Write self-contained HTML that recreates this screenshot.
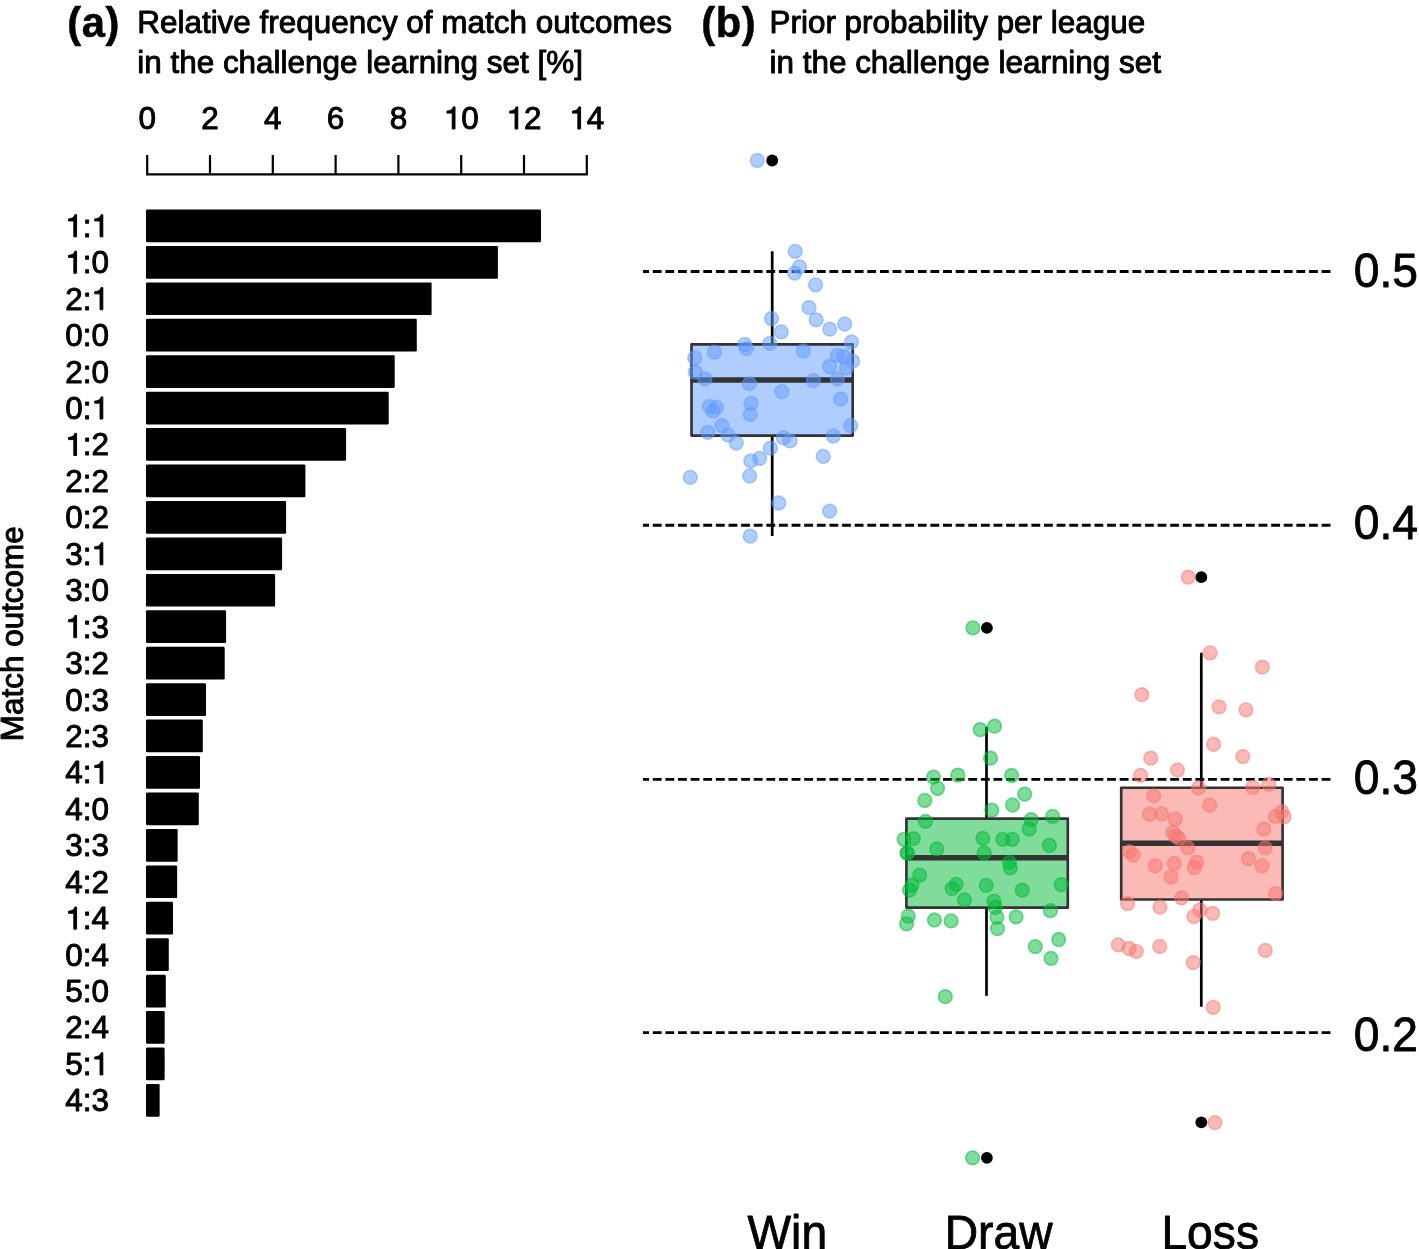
<!DOCTYPE html>
<html><head><meta charset="utf-8"><title>Figure</title>
<style>html,body{margin:0;padding:0;background:#fff;}body{width:1419px;height:1249px;overflow:hidden;font-family:"Liberation Sans", sans-serif;}text{fill:#000;stroke:#000;stroke-width:0.95px;stroke-linejoin:round;}text.b{stroke-width:0.5px}.big text,text.big{stroke-width:0.8px}path.g1{fill:#000;stroke:#000;stroke-width:0.95px;stroke-linejoin:round;vector-effect:non-scaling-stroke}</style>
</head><body>
<svg width="1419" height="1249" viewBox="0 0 1419 1249" style="display:block;will-change:transform;font-family:'Liberation Sans',sans-serif">
<rect width="1419" height="1249" fill="#fff"/>
<text class="b" x="67.3" y="37.4" letter-spacing="0.6" font-size="41.7" font-weight="bold">(a)</text>
<text x="137.25" y="32.9" font-size="31.45">Relative frequency of match outcomes</text>
<text x="137.25" y="72.6" font-size="31.45">in the challenge learning set [%]</text>
<text class="b" x="701.3" y="37.4" letter-spacing="0.6" font-size="41.7" font-weight="bold">(b)</text>
<text x="769.5" y="32.9" font-size="31.45">Prior probability per league</text>
<text x="769.5" y="72.6" font-size="31.45">in the challenge learning set</text>
<path d="M147.2 154.9V174.4H586.8V154.9M210.00 154.9V174.4M272.80 154.9V174.4M335.60 154.9V174.4M398.40 154.9V174.4M461.20 154.9V174.4M524.00 154.9V174.4" fill="none" stroke="#000" stroke-width="2.2" stroke-linejoin="miter"/>
<g transform="translate(0 129.00) scale(1 1.0)"><text x="138.46" y="0" font-size="31.45">0</text></g>
<g transform="translate(0 129.00) scale(1 1.0)"><text x="201.26" y="0" font-size="31.45">2</text></g>
<g transform="translate(0 129.00) scale(1 1.0)"><text x="264.06" y="0" font-size="31.45">4</text></g>
<g transform="translate(0 129.00) scale(1 1.0)"><text x="326.86" y="0" font-size="31.45">6</text></g>
<g transform="translate(0 129.00) scale(1 1.0)"><text x="389.66" y="0" font-size="31.45">8</text></g>
<g transform="translate(0 129.00) scale(1 1.0)"><path class="g1" transform="translate(443.71 0) scale(0.03145 -0.03145)" d="M271 0H359V703H301C287 640 240 585 101 570V505H271Z"/><text x="461.20" y="0" font-size="31.45">0</text></g>
<g transform="translate(0 129.00) scale(1 1.0)"><path class="g1" transform="translate(506.51 0) scale(0.03145 -0.03145)" d="M271 0H359V703H301C287 640 240 585 101 570V505H271Z"/><text x="524.00" y="0" font-size="31.45">2</text></g>
<g transform="translate(0 129.00) scale(1 1.0)"><path class="g1" transform="translate(569.31 0) scale(0.03145 -0.03145)" d="M271 0H359V703H301C287 640 240 585 101 570V505H271Z"/><text x="586.80" y="0" font-size="31.45">4</text></g>
<rect x="146.0" y="209.50" width="395.00" height="32.7" rx="1.2" fill="#000"/>
<g transform="translate(0 236.85) scale(1 1.0)"><path class="g1" transform="translate(65.30 0) scale(0.03145 -0.03145)" d="M271 0H359V703H301C287 640 240 585 101 570V505H271Z"/><text x="82.79" y="0" font-size="31.45">:</text><path class="g1" transform="translate(91.53 0) scale(0.03145 -0.03145)" d="M271 0H359V703H301C287 640 240 585 101 570V505H271Z"/></g>
<rect x="146.0" y="245.94" width="351.90" height="32.7" rx="1.2" fill="#000"/>
<g transform="translate(0 273.29) scale(1 1.0)"><path class="g1" transform="translate(65.30 0) scale(0.03145 -0.03145)" d="M271 0H359V703H301C287 640 240 585 101 570V505H271Z"/><text x="82.79" y="0" font-size="31.45">:0</text></g>
<rect x="146.0" y="282.38" width="285.60" height="32.7" rx="1.2" fill="#000"/>
<g transform="translate(0 309.73) scale(1 1.0)"><text x="65.30" y="0" font-size="31.45">2:</text><path class="g1" transform="translate(91.53 0) scale(0.03145 -0.03145)" d="M271 0H359V703H301C287 640 240 585 101 570V505H271Z"/></g>
<rect x="146.0" y="318.81" width="270.80" height="32.7" rx="1.2" fill="#000"/>
<g transform="translate(0 346.16) scale(1 1.0)"><text x="65.30" y="0" font-size="31.45">0:0</text></g>
<rect x="146.0" y="355.25" width="248.70" height="32.7" rx="1.2" fill="#000"/>
<g transform="translate(0 382.60) scale(1 1.0)"><text x="65.30" y="0" font-size="31.45">2:0</text></g>
<rect x="146.0" y="391.69" width="242.70" height="32.7" rx="1.2" fill="#000"/>
<g transform="translate(0 419.04) scale(1 1.0)"><text x="65.30" y="0" font-size="31.45">0:</text><path class="g1" transform="translate(91.53 0) scale(0.03145 -0.03145)" d="M271 0H359V703H301C287 640 240 585 101 570V505H271Z"/></g>
<rect x="146.0" y="428.12" width="200.10" height="32.7" rx="1.2" fill="#000"/>
<g transform="translate(0 455.48) scale(1 1.0)"><path class="g1" transform="translate(65.30 0) scale(0.03145 -0.03145)" d="M271 0H359V703H301C287 640 240 585 101 570V505H271Z"/><text x="82.79" y="0" font-size="31.45">:2</text></g>
<rect x="146.0" y="464.56" width="159.40" height="32.7" rx="1.2" fill="#000"/>
<g transform="translate(0 491.91) scale(1 1.0)"><text x="65.30" y="0" font-size="31.45">2:2</text></g>
<rect x="146.0" y="501.00" width="140.10" height="32.7" rx="1.2" fill="#000"/>
<g transform="translate(0 528.35) scale(1 1.0)"><text x="65.30" y="0" font-size="31.45">0:2</text></g>
<rect x="146.0" y="537.44" width="136.10" height="32.7" rx="1.2" fill="#000"/>
<g transform="translate(0 564.79) scale(1 1.0)"><text x="65.30" y="0" font-size="31.45">3:</text><path class="g1" transform="translate(91.53 0) scale(0.03145 -0.03145)" d="M271 0H359V703H301C287 640 240 585 101 570V505H271Z"/></g>
<rect x="146.0" y="573.88" width="129.10" height="32.7" rx="1.2" fill="#000"/>
<g transform="translate(0 601.23) scale(1 1.0)"><text x="65.30" y="0" font-size="31.45">3:0</text></g>
<rect x="146.0" y="610.31" width="80.10" height="32.7" rx="1.2" fill="#000"/>
<g transform="translate(0 637.66) scale(1 1.0)"><path class="g1" transform="translate(65.30 0) scale(0.03145 -0.03145)" d="M271 0H359V703H301C287 640 240 585 101 570V505H271Z"/><text x="82.79" y="0" font-size="31.45">:3</text></g>
<rect x="146.0" y="646.75" width="78.70" height="32.7" rx="1.2" fill="#000"/>
<g transform="translate(0 674.10) scale(1 1.0)"><text x="65.30" y="0" font-size="31.45">3:2</text></g>
<rect x="146.0" y="683.19" width="60.00" height="32.7" rx="1.2" fill="#000"/>
<g transform="translate(0 710.54) scale(1 1.0)"><text x="65.30" y="0" font-size="31.45">0:3</text></g>
<rect x="146.0" y="719.62" width="56.80" height="32.7" rx="1.2" fill="#000"/>
<g transform="translate(0 746.98) scale(1 1.0)"><text x="65.30" y="0" font-size="31.45">2:3</text></g>
<rect x="146.0" y="756.06" width="54.00" height="32.7" rx="1.2" fill="#000"/>
<g transform="translate(0 783.41) scale(1 1.0)"><text x="65.30" y="0" font-size="31.45">4:</text><path class="g1" transform="translate(91.53 0) scale(0.03145 -0.03145)" d="M271 0H359V703H301C287 640 240 585 101 570V505H271Z"/></g>
<rect x="146.0" y="792.50" width="52.80" height="32.7" rx="1.2" fill="#000"/>
<g transform="translate(0 819.85) scale(1 1.0)"><text x="65.30" y="0" font-size="31.45">4:0</text></g>
<rect x="146.0" y="828.94" width="31.65" height="32.7" rx="1.2" fill="#000"/>
<g transform="translate(0 856.29) scale(1 1.0)"><text x="65.30" y="0" font-size="31.45">3:3</text></g>
<rect x="146.0" y="865.38" width="31.15" height="32.7" rx="1.2" fill="#000"/>
<g transform="translate(0 892.73) scale(1 1.0)"><text x="65.30" y="0" font-size="31.45">4:2</text></g>
<rect x="146.0" y="901.81" width="27.00" height="32.7" rx="1.2" fill="#000"/>
<g transform="translate(0 929.16) scale(1 1.0)"><path class="g1" transform="translate(65.30 0) scale(0.03145 -0.03145)" d="M271 0H359V703H301C287 640 240 585 101 570V505H271Z"/><text x="82.79" y="0" font-size="31.45">:4</text></g>
<rect x="146.0" y="938.25" width="22.80" height="32.7" rx="1.2" fill="#000"/>
<g transform="translate(0 965.60) scale(1 1.0)"><text x="65.30" y="0" font-size="31.45">0:4</text></g>
<rect x="146.0" y="974.69" width="19.80" height="32.7" rx="1.2" fill="#000"/>
<g transform="translate(0 1002.04) scale(1 1.0)"><text x="65.30" y="0" font-size="31.45">5:0</text></g>
<rect x="146.0" y="1011.12" width="18.65" height="32.7" rx="1.2" fill="#000"/>
<g transform="translate(0 1038.47) scale(1 1.0)"><text x="65.30" y="0" font-size="31.45">2:4</text></g>
<rect x="146.0" y="1047.56" width="18.65" height="32.7" rx="1.2" fill="#000"/>
<g transform="translate(0 1074.91) scale(1 1.0)"><text x="65.30" y="0" font-size="31.45">5:</text><path class="g1" transform="translate(91.53 0) scale(0.03145 -0.03145)" d="M271 0H359V703H301C287 640 240 585 101 570V505H271Z"/></g>
<rect x="146.0" y="1084.00" width="13.65" height="32.7" rx="1.2" fill="#000"/>
<g transform="translate(0 1111.35) scale(1 1.0)"><text x="65.30" y="0" font-size="31.45">4:3</text></g>
<text transform="translate(23.3 741.2) rotate(-90)" font-size="31.45">Match outcome</text>
<line x1="643" y1="271.5" x2="1330.8" y2="271.5" stroke="#000" stroke-width="2.9" stroke-dasharray="8.85 3.77" stroke-dashoffset="2.85"/>
<g class="big" transform="translate(0 287.30) scale(1 1.036)"><text x="1353.70" y="0" font-size="46.2">0.5</text></g>
<line x1="643" y1="525.3" x2="1330.8" y2="525.3" stroke="#000" stroke-width="2.9" stroke-dasharray="8.85 3.77" stroke-dashoffset="2.85"/>
<g class="big" transform="translate(0 539.10) scale(1 1.036)"><text x="1353.70" y="0" font-size="46.2">0.4</text></g>
<line x1="643" y1="779.4" x2="1330.8" y2="779.4" stroke="#000" stroke-width="2.9" stroke-dasharray="8.85 3.77" stroke-dashoffset="2.85"/>
<g class="big" transform="translate(0 794.40) scale(1 1.036)"><text x="1353.70" y="0" font-size="46.2">0.3</text></g>
<line x1="643" y1="1032.6" x2="1330.8" y2="1032.6" stroke="#000" stroke-width="2.9" stroke-dasharray="8.85 3.77" stroke-dashoffset="2.85"/>
<g class="big" transform="translate(0 1050.80) scale(1 1.036)"><text x="1353.70" y="0" font-size="46.2">0.2</text></g>
<text class="big" transform="translate(787.3 1248.8) scale(1 1.056)" font-size="46.2" text-anchor="middle">Win</text>
<text class="big" transform="translate(998.6 1248.8) scale(1 1.056)" font-size="46.2" text-anchor="middle">Draw</text>
<text class="big" transform="translate(1210.2 1248.8) scale(1 1.056)" font-size="46.2" text-anchor="middle">Loss</text>
<path d="M772.2 251.3V344.3M772.2 435.55V535.9" stroke="#000" stroke-width="2.7" fill="none"/>
<circle cx="772.2" cy="160.5" r="5.9" fill="#000"/>
<rect x="691.5" y="344.3" width="161.20" height="91.25" fill="#619CFF" fill-opacity="0.5" stroke="#333" stroke-width="2.65" stroke-linejoin="round"/>
<line x1="691.5" y1="379.9" x2="852.7" y2="379.9" stroke="#333" stroke-width="5.5"/>
<g fill="#619CFF" fill-opacity="0.5" stroke="#619CFF" stroke-opacity="0.5" stroke-width="1.6">
<circle cx="795.2" cy="251.3" r="6.85"/>
<circle cx="799.5" cy="266.8" r="6.85"/>
<circle cx="794.6" cy="273.1" r="6.85"/>
<circle cx="815.6" cy="284.8" r="6.85"/>
<circle cx="809.0" cy="307.7" r="6.85"/>
<circle cx="816.1" cy="319.9" r="6.85"/>
<circle cx="829.7" cy="329.2" r="6.85"/>
<circle cx="844.7" cy="324.0" r="6.85"/>
<circle cx="771.5" cy="318.6" r="6.85"/>
<circle cx="781.3" cy="331.9" r="6.85"/>
<circle cx="851.5" cy="342.0" r="6.85"/>
<circle cx="769.8" cy="343.4" r="6.85"/>
<circle cx="744.8" cy="344.5" r="6.85"/>
<circle cx="746.4" cy="348.5" r="6.85"/>
<circle cx="714.5" cy="352.1" r="6.85"/>
<circle cx="803.3" cy="351.0" r="6.85"/>
<circle cx="694.7" cy="357.8" r="6.85"/>
<circle cx="837.4" cy="355.3" r="6.85"/>
<circle cx="843.9" cy="356.7" r="6.85"/>
<circle cx="852.6" cy="361.1" r="6.85"/>
<circle cx="829.5" cy="366.5" r="6.85"/>
<circle cx="846.4" cy="368.1" r="6.85"/>
<circle cx="695.2" cy="372.2" r="6.85"/>
<circle cx="705.0" cy="378.8" r="6.85"/>
<circle cx="749.4" cy="383.7" r="6.85"/>
<circle cx="813.4" cy="380.7" r="6.85"/>
<circle cx="837.4" cy="378.8" r="6.85"/>
<circle cx="781.8" cy="391.6" r="6.85"/>
<circle cx="840.6" cy="399.2" r="6.85"/>
<circle cx="751.0" cy="403.3" r="6.85"/>
<circle cx="709.4" cy="406.5" r="6.85"/>
<circle cx="716.4" cy="407.4" r="6.85"/>
<circle cx="713.2" cy="411.2" r="6.85"/>
<circle cx="750.2" cy="414.4" r="6.85"/>
<circle cx="721.9" cy="425.6" r="6.85"/>
<circle cx="850.7" cy="425.6" r="6.85"/>
<circle cx="707.7" cy="432.4" r="6.85"/>
<circle cx="728.2" cy="435.1" r="6.85"/>
<circle cx="833.3" cy="436.0" r="6.85"/>
<circle cx="783.4" cy="437.9" r="6.85"/>
<circle cx="790.0" cy="440.9" r="6.85"/>
<circle cx="736.3" cy="443.0" r="6.85"/>
<circle cx="770.4" cy="448.2" r="6.85"/>
<circle cx="759.7" cy="458.3" r="6.85"/>
<circle cx="750.8" cy="461.0" r="6.85"/>
<circle cx="823.2" cy="456.4" r="6.85"/>
<circle cx="690.3" cy="477.4" r="6.85"/>
<circle cx="749.7" cy="476.0" r="6.85"/>
<circle cx="778.8" cy="503.0" r="6.85"/>
<circle cx="829.7" cy="511.1" r="6.85"/>
<circle cx="750.2" cy="536.2" r="6.85"/>
<circle cx="757.3" cy="160.5" r="6.85"/>
</g>
<path d="M986.5 726.8V818.55M986.5 907.6V995.7" stroke="#000" stroke-width="2.7" fill="none"/>
<circle cx="986.9" cy="627.9" r="5.9" fill="#000"/>
<circle cx="986.9" cy="1157.8" r="5.9" fill="#000"/>
<rect x="906.4" y="818.55" width="161.40" height="89.05" fill="#00BA38" fill-opacity="0.5" stroke="#333" stroke-width="2.65" stroke-linejoin="round"/>
<line x1="906.4" y1="857.8" x2="1067.8" y2="857.8" stroke="#333" stroke-width="5.5"/>
<g fill="#00BA38" fill-opacity="0.5" stroke="#00BA38" stroke-opacity="0.5" stroke-width="1.6">
<circle cx="972.9" cy="627.9" r="6.85"/>
<circle cx="980.2" cy="729.7" r="6.85"/>
<circle cx="994.6" cy="726.2" r="6.85"/>
<circle cx="990.5" cy="758.2" r="6.85"/>
<circle cx="933.5" cy="777.1" r="6.85"/>
<circle cx="957.8" cy="775.2" r="6.85"/>
<circle cx="1011.6" cy="775.5" r="6.85"/>
<circle cx="937.6" cy="788.3" r="6.85"/>
<circle cx="1024.7" cy="794.1" r="6.85"/>
<circle cx="924.8" cy="800.5" r="6.85"/>
<circle cx="1012.6" cy="805.0" r="6.85"/>
<circle cx="991.8" cy="810.1" r="6.85"/>
<circle cx="1052.6" cy="816.5" r="6.85"/>
<circle cx="1031.2" cy="819.7" r="6.85"/>
<circle cx="925.5" cy="821.3" r="6.85"/>
<circle cx="1029.2" cy="829.0" r="6.85"/>
<circle cx="904.0" cy="839.3" r="6.85"/>
<circle cx="913.3" cy="838.6" r="6.85"/>
<circle cx="982.8" cy="838.3" r="6.85"/>
<circle cx="1002.7" cy="839.3" r="6.85"/>
<circle cx="1012.3" cy="839.3" r="6.85"/>
<circle cx="1049.4" cy="845.4" r="6.85"/>
<circle cx="936.7" cy="848.9" r="6.85"/>
<circle cx="907.2" cy="853.0" r="6.85"/>
<circle cx="984.1" cy="853.0" r="6.85"/>
<circle cx="1009.4" cy="862.3" r="6.85"/>
<circle cx="1010.3" cy="867.8" r="6.85"/>
<circle cx="919.7" cy="875.1" r="6.85"/>
<circle cx="912.0" cy="885.1" r="6.85"/>
<circle cx="909.5" cy="890.2" r="6.85"/>
<circle cx="956.2" cy="884.4" r="6.85"/>
<circle cx="952.1" cy="888.6" r="6.85"/>
<circle cx="986.3" cy="885.4" r="6.85"/>
<circle cx="1022.2" cy="890.2" r="6.85"/>
<circle cx="1061.3" cy="884.7" r="6.85"/>
<circle cx="964.5" cy="899.8" r="6.85"/>
<circle cx="994.0" cy="901.1" r="6.85"/>
<circle cx="995.3" cy="907.5" r="6.85"/>
<circle cx="1050.4" cy="910.7" r="6.85"/>
<circle cx="908.2" cy="916.1" r="6.85"/>
<circle cx="906.6" cy="923.8" r="6.85"/>
<circle cx="934.4" cy="920.0" r="6.85"/>
<circle cx="951.1" cy="920.9" r="6.85"/>
<circle cx="996.9" cy="917.1" r="6.85"/>
<circle cx="1016.1" cy="916.8" r="6.85"/>
<circle cx="997.5" cy="928.6" r="6.85"/>
<circle cx="1058.7" cy="939.5" r="6.85"/>
<circle cx="1035.3" cy="946.6" r="6.85"/>
<circle cx="1051.0" cy="958.4" r="6.85"/>
<circle cx="945.3" cy="996.7" r="6.85"/>
<circle cx="907.2" cy="853.0" r="6.85"/>
<circle cx="972.6" cy="1157.8" r="6.85"/>
</g>
<path d="M1201.3 652.8V787.75M1201.3 899.5V1006.8" stroke="#000" stroke-width="2.7" fill="none"/>
<circle cx="1201.3" cy="577.2" r="5.9" fill="#000"/>
<circle cx="1201.3" cy="1122.3" r="5.9" fill="#000"/>
<rect x="1121.2" y="787.75" width="161.40" height="111.75" fill="#F8766D" fill-opacity="0.5" stroke="#333" stroke-width="2.65" stroke-linejoin="round"/>
<line x1="1121.2" y1="843.3" x2="1282.6" y2="843.3" stroke="#333" stroke-width="5.5"/>
<g fill="#F8766D" fill-opacity="0.5" stroke="#F8766D" stroke-opacity="0.5" stroke-width="1.6">
<circle cx="1188.3" cy="577.2" r="6.85"/>
<circle cx="1210.1" cy="652.8" r="6.85"/>
<circle cx="1262.3" cy="667.2" r="6.85"/>
<circle cx="1141.9" cy="694.7" r="6.85"/>
<circle cx="1219.1" cy="706.9" r="6.85"/>
<circle cx="1246.0" cy="709.8" r="6.85"/>
<circle cx="1213.6" cy="744.4" r="6.85"/>
<circle cx="1242.8" cy="756.6" r="6.85"/>
<circle cx="1150.8" cy="758.2" r="6.85"/>
<circle cx="1177.4" cy="770.0" r="6.85"/>
<circle cx="1140.6" cy="775.4" r="6.85"/>
<circle cx="1198.6" cy="787.9" r="6.85"/>
<circle cx="1252.7" cy="787.3" r="6.85"/>
<circle cx="1268.7" cy="784.4" r="6.85"/>
<circle cx="1153.7" cy="795.9" r="6.85"/>
<circle cx="1209.8" cy="805.2" r="6.85"/>
<circle cx="1149.6" cy="814.2" r="6.85"/>
<circle cx="1161.7" cy="813.9" r="6.85"/>
<circle cx="1175.2" cy="819.0" r="6.85"/>
<circle cx="1281.8" cy="811.6" r="6.85"/>
<circle cx="1275.4" cy="816.4" r="6.85"/>
<circle cx="1284.1" cy="816.8" r="6.85"/>
<circle cx="1263.9" cy="829.2" r="6.85"/>
<circle cx="1172.9" cy="832.4" r="6.85"/>
<circle cx="1175.8" cy="836.0" r="6.85"/>
<circle cx="1178.7" cy="838.2" r="6.85"/>
<circle cx="1187.7" cy="847.8" r="6.85"/>
<circle cx="1265.2" cy="847.8" r="6.85"/>
<circle cx="1129.4" cy="851.7" r="6.85"/>
<circle cx="1133.2" cy="855.2" r="6.85"/>
<circle cx="1248.5" cy="858.7" r="6.85"/>
<circle cx="1155.3" cy="865.8" r="6.85"/>
<circle cx="1174.2" cy="863.5" r="6.85"/>
<circle cx="1196.6" cy="862.2" r="6.85"/>
<circle cx="1194.4" cy="867.7" r="6.85"/>
<circle cx="1262.0" cy="865.8" r="6.85"/>
<circle cx="1171.0" cy="877.0" r="6.85"/>
<circle cx="1275.7" cy="893.6" r="6.85"/>
<circle cx="1181.6" cy="897.8" r="6.85"/>
<circle cx="1127.5" cy="903.5" r="6.85"/>
<circle cx="1159.9" cy="907.1" r="6.85"/>
<circle cx="1199.8" cy="910.0" r="6.85"/>
<circle cx="1193.8" cy="916.5" r="6.85"/>
<circle cx="1212.7" cy="913.4" r="6.85"/>
<circle cx="1118.3" cy="944.8" r="6.85"/>
<circle cx="1129.1" cy="948.5" r="6.85"/>
<circle cx="1136.4" cy="951.3" r="6.85"/>
<circle cx="1159.7" cy="946.5" r="6.85"/>
<circle cx="1265.3" cy="950.4" r="6.85"/>
<circle cx="1193.3" cy="962.6" r="6.85"/>
<circle cx="1213.2" cy="1007.3" r="6.85"/>
<circle cx="1214.9" cy="1122.6" r="6.85"/>
</g>
</svg>
</body></html>
